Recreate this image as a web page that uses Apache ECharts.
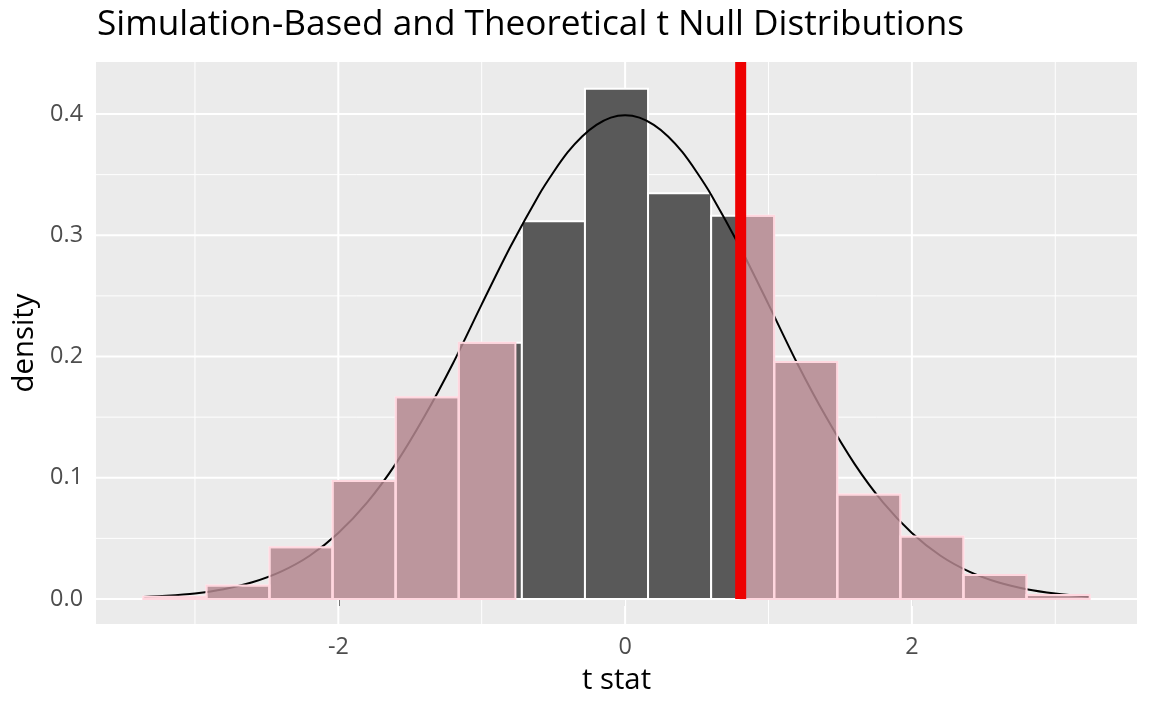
<!DOCTYPE html>
<html>
<head>
<meta charset="utf-8">
<title>Simulation-Based and Theoretical t Null Distributions</title>
<script src="https://cdn.jsdelivr.net/npm/echarts@6/dist/echarts.min.js"></script>
<style>
  html, body { margin: 0; padding: 0; background: #ffffff; }
  #chart { width: 1152px; height: 711px; }
</style>
</head>
<body>
<div id="chart"></div>
<script>
// histogram bins (t stat edges) and density heights
const binEdges = [-3.36, -2.92, -2.48, -2.04, -1.60, -1.16, -0.72, -0.28,
                  0.16, 0.60, 1.04, 1.48, 1.92, 2.36, 2.80, 3.24];
const binDensity = [0.0018, 0.0112, 0.0428, 0.0973, 0.1664, 0.2114, 0.3115,
                    0.4209, 0.3346, 0.3160, 0.1955, 0.0862, 0.0516, 0.0198, 0.0034];

// theoretical t curve
const curveX = [-3.36, -3.2, -3.0, -2.8, -2.6, -2.4, -2.2, -2.0, -1.8, -1.6, -1.4,
                -1.2, -1.0, -0.8, -0.6, -0.5, -0.4, -0.3, -0.2, -0.1, 0.0, 0.1,
                0.2, 0.3, 0.4, 0.5, 0.6, 0.8, 1.0, 1.2, 1.4, 1.6, 1.8, 2.0, 2.2,
                2.4, 2.6, 2.8, 3.0, 3.24];
const curveY = [0.0016, 0.0026, 0.0046, 0.0081, 0.0138, 0.0226, 0.0357, 0.0545,
                0.0795, 0.1115, 0.1505, 0.1945, 0.2430, 0.2905, 0.3335, 0.3520,
                0.3685, 0.3815, 0.3910, 0.3970, 0.3990, 0.3970, 0.3910, 0.3815,
                0.3685, 0.3520, 0.3335, 0.2905, 0.2430, 0.1945, 0.1505, 0.1115,
                0.0795, 0.0545, 0.0357, 0.0226, 0.0138, 0.0081, 0.0046, 0.0019];

// observed statistic and shaded tails
const obsStat = 0.806;
const leftShadeEnd = -0.765;
const rightShadeStart = 0.806;

// axis ticks
const xTicks = [-2, 0, 2];
const xMinor = [-3, -1, 1, 3];
const yTicks = [0, 0.1, 0.2, 0.3, 0.4];
const yMinor = [0.05, 0.15, 0.25, 0.35];

const xMin = -3.69, xMax = 3.57;
const yMin = -0.0206, yMax = 0.4429;

const bars = binDensity.map((d, i) => [binEdges[i], binEdges[i + 1], d]);
const curve = curveX.map((x, i) => [x, curveY[i]]);

const chart = echarts.init(document.getElementById('chart'), null, { renderer: 'canvas' });

// vertical grid line
function vLine(width) {
    return function (params, api) {
        const cs = params.coordSys;
        const x = api.coord([api.value(0), 0])[0];
        return {
            type: 'line',
            shape: { x1: x, y1: cs.y, x2: x, y2: cs.y + cs.height },
            style: { stroke: '#FFFFFF', lineWidth: width }
        };
    };
}

// horizontal grid line
function hLine(width) {
    return function (params, api) {
        const cs = params.coordSys;
        const y = api.coord([0, api.value(1)])[1];
        return {
            type: 'line',
            shape: { x1: cs.x, y1: y, x2: cs.x + cs.width, y2: y },
            style: { stroke: '#FFFFFF', lineWidth: width }
        };
    };
}

function rectFor(api, x0, x1, h) {
    const p0 = api.coord([x0, 0]);
    const p1 = api.coord([x1, h]);
    return { x: p0[0], y: p1[1], width: p1[0] - p0[0], height: p0[1] - p1[1] };
}

const option = {
    animation: false,
    backgroundColor: '#FFFFFF',
    title: {
        text: 'Simulation-Based and Theoretical t Null Distributions',
        left: 92,
        top: 2,
        textStyle: {
            fontFamily: 'Open Sans',
            fontSize: 35.2,
            fontWeight: 'normal',
            color: '#000000'
        }
    },
    grid: {
        left: 96,
        right: 15,
        top: 62,
        bottom: 87,
        show: true,
        backgroundColor: '#EBEBEB',
        borderWidth: 0
    },
    xAxis: {
        type: 'value',
        min: xMin,
        max: xMax,
        name: 't stat',
        nameLocation: 'middle',
        nameGap: 42,
        nameTextStyle: { fontFamily: 'Open Sans', fontSize: 29.3, color: '#000000' },
        axisLine: { show: false },
        splitLine: { show: false },
        axisTick: {
            show: true,
            customValues: xTicks,
            length: 7,
            lineStyle: { color: '#333333', width: 2 }
        },
        axisLabel: {
            customValues: xTicks,
            margin: 12,
            fontFamily: 'Open Sans',
            fontSize: 23.4,
            color: '#4D4D4D'
        }
    },
    yAxis: {
        type: 'value',
        min: yMin,
        max: yMax,
        name: 'density',
        nameLocation: 'middle',
        nameGap: 47,
        nameTextStyle: { fontFamily: 'Open Sans', fontSize: 29.3, color: '#000000' },
        axisLine: { show: false },
        splitLine: { show: false },
        axisTick: {
            show: true,
            customValues: yTicks,
            length: 7,
            lineStyle: { color: '#333333', width: 2 }
        },
        axisLabel: {
            customValues: yTicks,
            margin: 13,
            fontFamily: 'Open Sans',
            fontSize: 23.4,
            color: '#4D4D4D',
            formatter: v => v.toFixed(1)
        }
    },
    series: [
        {
            name: 'minor x grid',
            type: 'custom',
            silent: true,
            z: 1,
            renderItem: vLine(1),
            data: xMinor.map(v => [v, 0])
        },
        {
            name: 'minor y grid',
            type: 'custom',
            silent: true,
            z: 1,
            renderItem: hLine(1),
            data: yMinor.map(v => [0, v])
        },
        {
            name: 'major x grid',
            type: 'custom',
            silent: true,
            z: 1,
            renderItem: vLine(2),
            data: xTicks.map(v => [v, 0])
        },
        {
            name: 'major y grid',
            type: 'custom',
            silent: true,
            z: 1,
            renderItem: hLine(2),
            data: yTicks.map(v => [0, v])
        },
        {
            name: 'simulated',
            type: 'custom',
            z: 2,
            encode: { x: [0, 1], y: 2 },
            renderItem: function (params, api) {
                return {
                    type: 'rect',
                    shape: rectFor(api, api.value(0), api.value(1), api.value(2)),
                    style: { fill: '#595959', stroke: '#FFFFFF', lineWidth: 2 }
                };
            },
            data: bars
        },
        {
            name: 'theoretical',
            type: 'line',
            z: 3,
            smooth: 0.3,
            showSymbol: false,
            lineStyle: { color: '#000000', width: 2 },
            data: curve
        },
        {
            name: 'shaded tails',
            type: 'custom',
            z: 4,
            encode: { x: [0, 1], y: 2 },
            renderItem: function (params, api) {
                let x0 = api.value(0), x1 = api.value(1);
                const h = api.value(2);
                if (x1 <= leftShadeEnd || x0 >= rightShadeStart) {
                    // whole bin shaded
                } else if (x0 < leftShadeEnd) {
                    x1 = leftShadeEnd;
                } else if (x1 > rightShadeStart) {
                    x0 = rightShadeStart;
                } else {
                    return null;
                }
                return {
                    type: 'rect',
                    shape: rectFor(api, x0, x1, h),
                    style: {
                        fill: 'rgba(255, 192, 203, 0.6)',
                        stroke: 'rgba(255, 215, 223, 1)',
                        lineWidth: 2
                    }
                };
            },
            data: bars
        },
        {
            name: 'observed stat',
            type: 'custom',
            z: 5,
            renderItem: function (params, api) {
                const cs = params.coordSys;
                const x = api.coord([api.value(0), 0])[0];
                return {
                    type: 'line',
                    shape: { x1: x, y1: cs.y, x2: x, y2: api.coord([0, 0])[1] },
                    style: { stroke: '#EE0000', lineWidth: 11 }
                };
            },
            data: [[obsStat, 0]]
        }
    ]
};

chart.setOption(option);
window.addEventListener('resize', () => chart.resize());
</script>
</body>
</html>
